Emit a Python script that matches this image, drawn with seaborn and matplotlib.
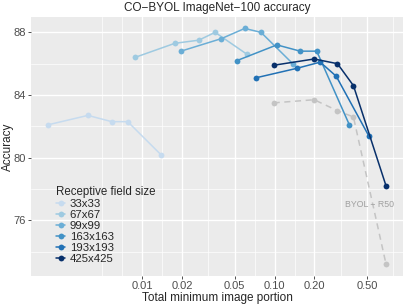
import numpy as np
import pandas as pd
import matplotlib
matplotlib.use('Agg')
import matplotlib.pyplot as plt
from matplotlib.ticker import FixedLocator, NullFormatter
import seaborn as sns

sizes = ['33x33', '67x67', '99x99', '163x163', '193x193', '425x425']
colors = ['#c6dbef', '#9ecae1', '#6baed6', '#4292c6', '#2171b5', '#08306b']

x33 = [0.00194, 0.00388, 0.00588, 0.00776, 0.0138]
acc33 = [82.1, 82.7, 82.3, 82.3, 80.2]
x67 = [0.0088, 0.0176, 0.0267, 0.0355, 0.0618]
acc67 = [86.4, 87.3, 87.5, 88.0, 86.6]
x99 = [0.0196, 0.0396, 0.0594, 0.0789, 0.137]
acc99 = [86.8, 87.6, 88.25, 88.0, 86.0]
x163 = [0.052, 0.104, 0.156, 0.208, 0.367]
acc163 = [86.2, 87.2, 86.8, 86.8, 82.1]
x193 = [0.0723, 0.1465, 0.221, 0.292, 0.514]
acc193 = [85.1, 85.7, 86.1, 85.2, 81.4]
x425 = [0.0983, 0.199, 0.2985, 0.394, 0.695]
acc425 = [85.9, 86.3, 86.0, 84.6, 78.2]

x_byol = [0.0983, 0.199, 0.2985, 0.394, 0.695]
acc_byol = [83.5, 83.7, 83.0, 82.6, 73.2]

xticks = [0.01, 0.02, 0.05, 0.1, 0.2, 0.5]
xticklabels = ['0.01', '0.02', '0.05', '0.10', '0.20', '0.50']
yticks = [76, 80, 84, 88]

xs = [x33, x67, x99, x163, x193, x425]
accs = [acc33, acc67, acc99, acc163, acc193, acc425]
df = pd.concat([pd.DataFrame({'portion': x, 'acc': a, 'size': s})
                for x, a, s in zip(xs, accs, sizes)], ignore_index=True)
byol = pd.DataFrame({'portion': x_byol, 'acc': acc_byol})

sns.set_theme(style='darkgrid')
plt.rcParams['font.family'] = ['Liberation Sans', 'DejaVu Sans']

fig = plt.figure(figsize=(4.07, 3.05), dpi=100)
ax = fig.add_axes([31 / 407, 1 - 276 / 305, 372 / 407, 259 / 305])
ax.set_facecolor('#EBEBEB')

sns.lineplot(data=byol, x='portion', y='acc', color='#c4c4c4', linestyle=(0, (4, 3)),
             marker='o', markersize=4.2, markeredgewidth=0, lw=1.1, ax=ax,
             legend=False, estimator=None, sort=False)
sns.lineplot(data=df, x='portion', y='acc', hue='size', hue_order=sizes,
             palette=colors, marker='o', markersize=4.2, markeredgewidth=0,
             lw=1.1, ax=ax, estimator=None, sort=False)

ax.text(0.52, 77.0, 'BYOL \u2212 R50', color='#a0a0a0', fontsize=6.3,
        ha='center', va='center')

ax.set_xscale('log')
ax.set_xlim(10 ** -2.841, 10 ** -0.030)
ax.set_ylim(72.45, 88.98)
ax.xaxis.set_major_locator(FixedLocator(xticks))
ax.set_xticklabels(xticklabels)
lmaj = np.log10(xticks)
ext = np.concatenate([[lmaj[0] - (lmaj[1] - lmaj[0])], lmaj, [lmaj[-1] + (lmaj[-1] - lmaj[-2])]])
mins = list(ext[:1]) + list((ext[:-1] + ext[1:]) / 2)
ax.xaxis.set_minor_locator(FixedLocator(10 ** np.array(mins)))
ax.xaxis.set_minor_formatter(NullFormatter())
ax.set_yticks(yticks)
ax.yaxis.set_minor_locator(FixedLocator([74, 78, 82, 86]))

ax.grid(which='major', color='white', lw=1.0)
ax.grid(which='minor', color='white', lw=0.5)
for sp in ax.spines.values():
    sp.set_visible(False)
ax.tick_params(which='major', length=2.2, width=0.6, color='#333333',
               labelsize=8, labelcolor='#4D4D4D', pad=1.2, bottom=True, left=True)
ax.tick_params(which='minor', length=0)

ax.set_xlabel('Total minimum image portion', fontsize=8.5, labelpad=1)
ax.set_ylabel('Accuracy', fontsize=8.5, labelpad=1)
ax.yaxis.set_label_coords(-0.045, 0.5)
ax.set_title('CO\u2212BYOL ImageNet\u2212100 accuracy', fontsize=8.5, pad=4)

h, l = ax.get_legend_handles_labels()
leg = ax.legend(h, l, title='Receptive field size', loc='lower left',
                bbox_to_anchor=(0.055, 0.03), frameon=False, fontsize=8.2,
                title_fontsize=8.3, handlelength=0.8, handletextpad=0.4,
                labelspacing=0.08, borderaxespad=0)
leg._legend_box.align = 'left'

fig.savefig('out.png', dpi=100)
